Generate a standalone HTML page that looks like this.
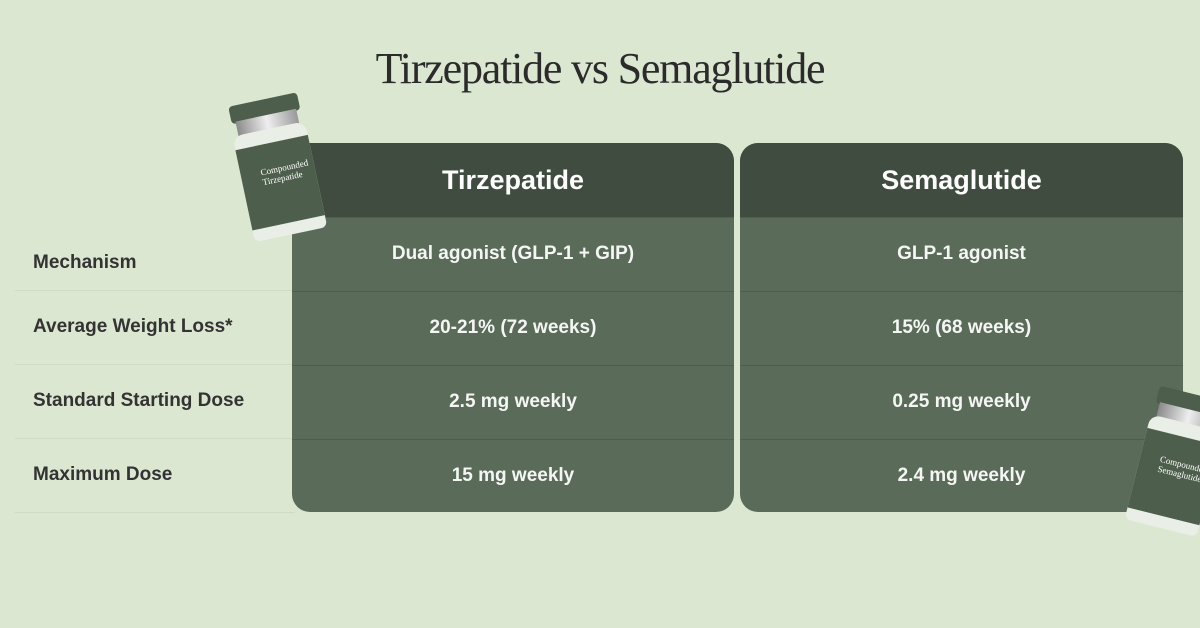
<!DOCTYPE html>
<html><head><style>
body{margin:0;width:1200px;height:628px;background:#dbe7d0;position:relative;overflow:hidden;font-family:"Liberation Sans",sans-serif}
.title{position:absolute;left:0;width:1200px;top:43px;text-align:center;font-family:"Liberation Serif",serif;font-size:44px;font-weight:normal;color:#2b2b2b;letter-spacing:-1.2px}
.card{position:absolute;top:143px;height:369px;background:#5b6b5a;border-radius:18px;overflow:hidden}
.hd{height:74px;background:#3f4c3f;color:#fff;font-weight:bold;font-size:27px;text-align:center;line-height:74px}
.row{height:73px;border-top:1px solid #4e5d4d;color:#f4f6f3;font-weight:600;font-size:19px;text-align:center;line-height:72px}
.row:first-of-type{border-top:none}
.lab{position:absolute;left:33px;font-weight:bold;font-size:19px;color:#333}
.ln{position:absolute;left:15px;width:280px;height:1px;background:#cfdcc4}
.vial{position:absolute;width:78px;height:140px}
.cap{position:absolute;left:4px;top:0;width:70px;height:18px;background:#4d5e4c;border-radius:4px}
.neck{position:absolute;left:8px;top:16px;width:62px;height:16px;background:linear-gradient(90deg,#8a8a8a,#eee,#999);}
.glass{position:absolute;left:2px;top:30px;width:74px;height:108px;background:#e9eee6;border-radius:10px 10px 6px 6px}
.lbl{position:absolute;left:2px;top:44px;width:74px;height:82px;background:#4d5e4c;color:#fff;font-family:"Liberation Serif",serif;font-size:9px;padding:22px 0 0 20px;box-sizing:border-box}
</style></head><body>
<div class="title">Tirzepatide vs Semaglutide</div>
<div class="ln" style="top:290px"></div><div class="ln" style="top:364px"></div><div class="ln" style="top:438px"></div><div class="ln" style="top:512px"></div>
<div class="lab" style="top:252px">Mechanism</div>
<div class="lab" style="top:316px">Average Weight Loss*</div>
<div class="lab" style="top:390px">Standard Starting Dose</div>
<div class="lab" style="top:464px">Maximum Dose</div>
<div class="card" style="left:292px;width:442px">
<div class="hd">Tirzepatide</div>
<div class="row">Dual agonist (GLP-1 + GIP)</div>
<div class="row">20-21% (72 weeks)</div>
<div class="row">2.5 mg weekly</div>
<div class="row">15 mg weekly</div>
</div>
<div class="card" style="left:740px;width:443px">
<div class="hd">Semaglutide</div>
<div class="row">GLP-1 agonist</div>
<div class="row">15% (68 weeks)</div>
<div class="row">0.25 mg weekly</div>
<div class="row">2.4 mg weekly</div>
</div>
<div class="vial" style="left:238px;top:98px;transform:rotate(-12deg)">
<div class="cap"></div><div class="neck"></div><div class="glass"></div><div class="lbl">Compounded<br>Tirzepatide</div></div>
<div class="vial" style="left:1138px;top:392px;transform:rotate(14deg)">
<div class="cap"></div><div class="neck"></div><div class="glass"></div><div class="lbl">Compounded<br>Semaglutide</div></div>
</body></html>
